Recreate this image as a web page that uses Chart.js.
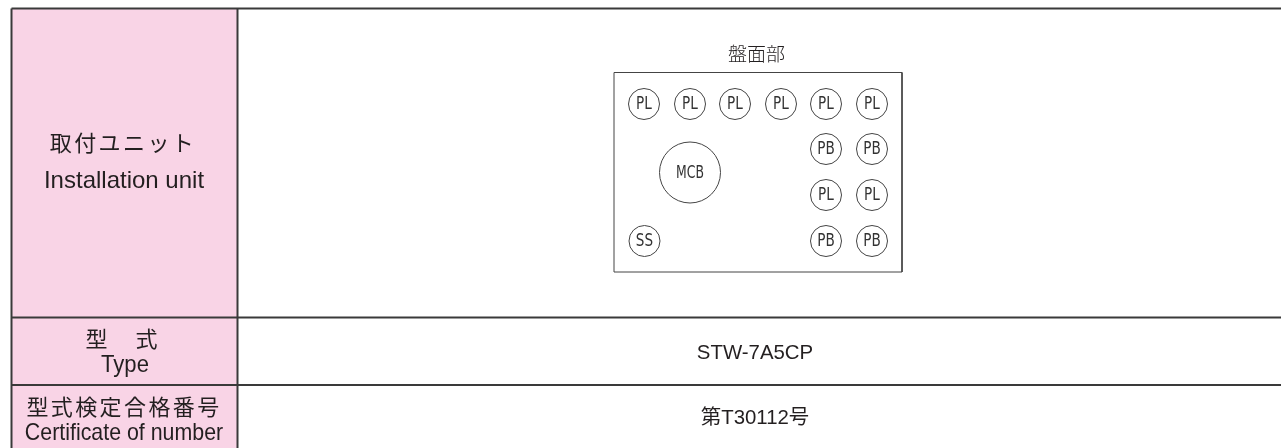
<!DOCTYPE html>
<html>
<head>
<meta charset="utf-8">
<title>盤面部</title>
<script src="https://cdn.jsdelivr.net/npm/chart.js@4"></script>
<style>
  html, body { margin: 0; padding: 0; background: #fff; overflow: hidden; }
  canvas { display: block; }
</style>
</head>
<body>
<canvas id="panelChart" width="1281" height="448"></canvas>
<script>
// panel parts (axis units = px of the picture)
const partNames = ['PL', 'PL', 'PL', 'PL', 'PL', 'PL', 'PB', 'PB', 'PL', 'PL', 'SS', 'PB', 'PB', 'MCB'];
const partX = [644, 690, 735, 781, 826, 872, 826, 872, 826, 872, 644.5, 826, 872, 690];
const partY = [104, 104, 104, 104, 104, 104, 149, 149, 195, 195, 241, 241, 241, 172.5];
const partR = [15.5, 15.5, 15.5, 15.5, 15.5, 15.5, 15.5, 15.5, 15.5, 15.5, 15.5, 15.5, 15.5, 30.5];

// table outline
const rowLines = [8.5, 317.5, 385];
const colLines = [11.5, 237.5];
const panelX = [614, 902, 902, 614, 614];
const panelY = [72.5, 72.5, 272, 272, 72.5];

// table texts
const cellTexts = ['取付ユニット', 'Installation unit', '型　式', 'Type', '型式検定合格番号', 'Certificate of number', 'STW-7A5CP', '第T30112号', '盤面部'];
const cellX = [123, 124, 123, 125, 124, 124, 755, 755, 756.5];
const cellY = [143, 181, 339, 365, 407, 433, 353, 418, 54];

const axisMaxX = 1281;
const axisMaxY = 448;

const cjk = '"Noto Sans CJK JP", sans-serif';
const latin = '"Liberation Sans", Arial, ';
const cellStyles = [
  { font: '22px ' + cjk, spacing: '2.4px' },
  { font: '24px ' + latin + 'sans-serif' },
  { font: '22px ' + cjk, spacing: '3px' },
  { font: '24px ' + latin + 'sans-serif', squeeze: 0.92 },
  { font: '22px ' + cjk, spacing: '2.4px' },
  { font: '24px ' + latin + 'sans-serif', squeeze: 0.89 },
  { font: '20.4px ' + latin + 'sans-serif' },
  { font: '20.4px ' + latin + cjk },
  { font: '300 19px ' + cjk }
];

const tableLines = [];
rowLines.forEach(y => {
  tableLines.push({
    type: 'line',
    data: [{ x: colLines[0], y: y }, { x: axisMaxX, y: y }],
    borderColor: '#3a3a3a', borderWidth: 2, pointRadius: 0, order: 1
  });
});
colLines.forEach(x => {
  tableLines.push({
    type: 'line',
    data: [{ x: x, y: rowLines[0] }, { x: x, y: axisMaxY }],
    borderColor: '#3a3a3a', borderWidth: 2, pointRadius: 0, order: 1
  });
});

function squeezedText(ctx, text, x, y, squeeze) {
  ctx.save();
  ctx.translate(x, y);
  ctx.scale(squeeze, 1);
  ctx.fillText(text, 0, 0);
  ctx.restore();
}

// texts go on top of the datasets, through the scales
const labelPlugin = {
  id: 'labelPlugin',
  afterDatasetsDraw(chart) {
    const ctx = chart.ctx;
    const xs = chart.scales.x;
    const ys = chart.scales.y;
    ctx.save();
    ctx.textAlign = 'center';
    ctx.textBaseline = 'middle';

    ctx.fillStyle = '#231f20';
    cellTexts.forEach((text, i) => {
      ctx.font = cellStyles[i].font;
      ctx.letterSpacing = cellStyles[i].spacing || '0px';
      squeezedText(ctx, text, xs.getPixelForValue(cellX[i]), ys.getPixelForValue(cellY[i]), cellStyles[i].squeeze || 1);
    });

    ctx.letterSpacing = '0px';
    ctx.fillStyle = '#333';
    ctx.font = '17px "DejaVu Sans", sans-serif';
    partNames.forEach((name, i) => {
      squeezedText(ctx, name, xs.getPixelForValue(partX[i]), ys.getPixelForValue(partY[i]) + 1, name.length > 2 ? 0.73 : 0.8);
    });
    ctx.restore();
  }
};

new Chart(document.getElementById('panelChart').getContext('2d'), {
  type: 'bubble',
  data: {
    datasets: [
      {
        type: 'line',
        data: [{ x: colLines[0], y: rowLines[0] }, { x: colLines[1], y: rowLines[0] }],
        borderWidth: 0,
        pointRadius: 0,
        backgroundColor: '#f9d4e6',
        fill: { value: axisMaxY },
        order: 3
      },
      ...tableLines,
      {
        type: 'line',
        data: panelX.map((x, i) => ({ x: x, y: panelY[i] })),
        borderColor: '#444',
        borderWidth: 1,
        pointRadius: 0,
        fill: false,
        order: 1
      },
      {
        data: partX.map((x, i) => ({ x: x, y: partY[i], r: partR[i] })),
        borderColor: '#444',
        borderWidth: 1,
        backgroundColor: 'rgba(0,0,0,0)',
        order: 0
      }
    ]
  },
  options: {
    responsive: false,
    animation: false,
    events: [],
    layout: { padding: 0, autoPadding: false },
    plugins: { legend: { display: false }, tooltip: { enabled: false } },
    scales: {
      x: { type: 'linear', display: false, min: 0, max: axisMaxX },
      y: { type: 'linear', display: false, min: 0, max: axisMaxY, reverse: true }
    }
  },
  plugins: [labelPlugin]
});
</script>
</body>
</html>
